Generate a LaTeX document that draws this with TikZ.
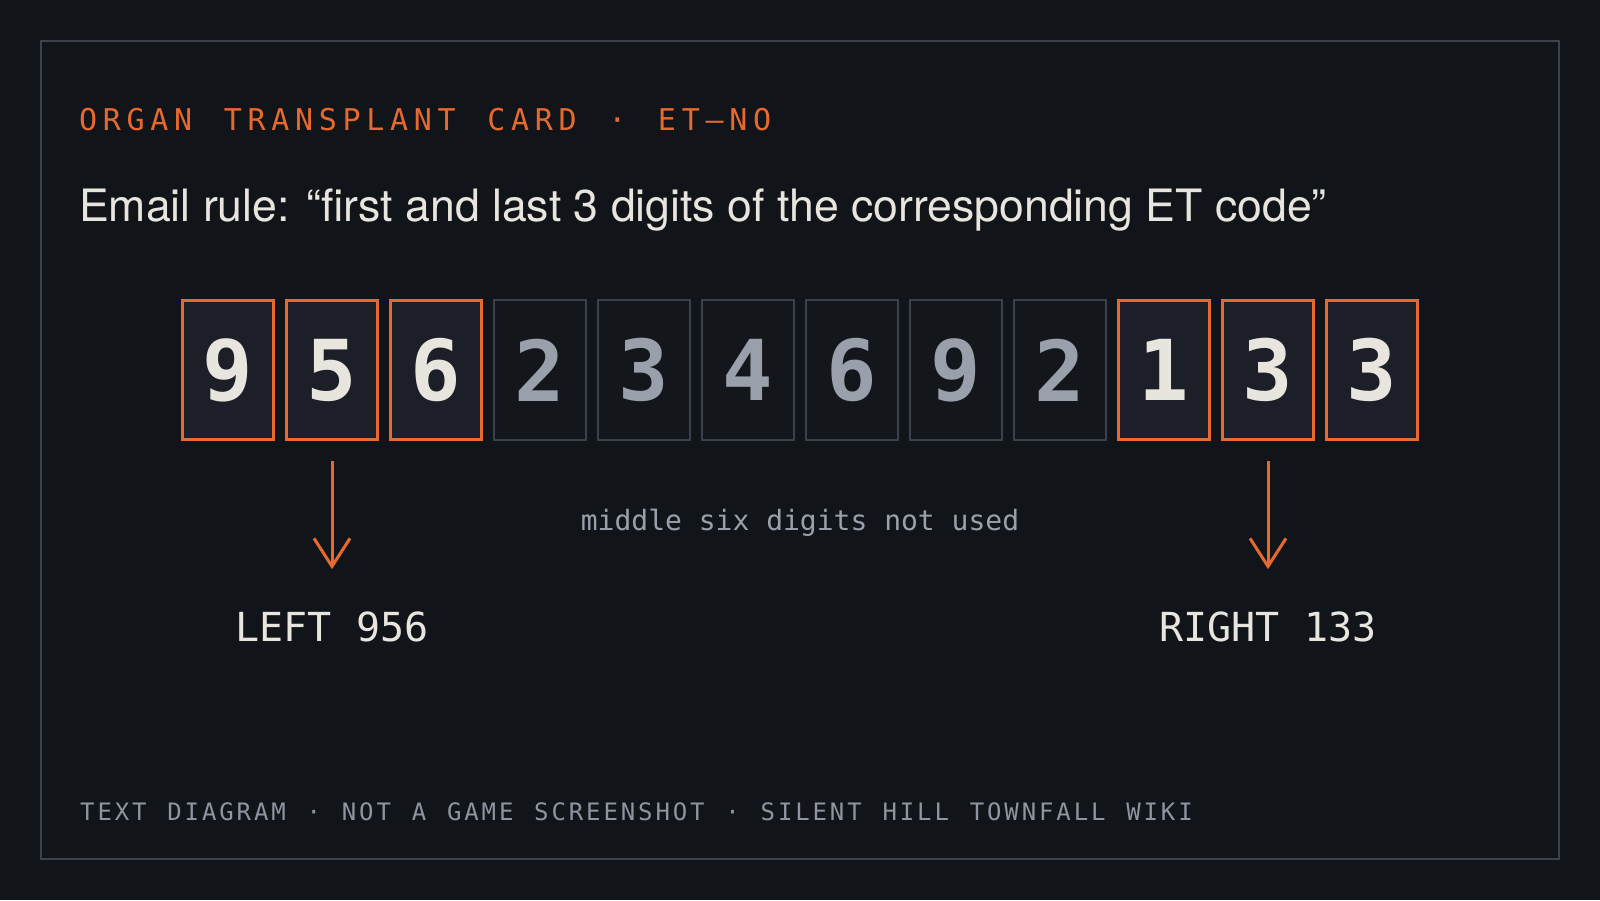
\documentclass[tikz,border=0pt]{standalone}
\usepackage{fontspec}
\setmainfont{TeX Gyre Heros}
\newfontfamily\monofont{DejaVu Sans Mono}
\newfontfamily\titlefont[LetterSpace=19,WordSpace=1.33]{DejaVu Sans Mono}
\newfontfamily\footfont[LetterSpace=12,WordSpace=1.2]{DejaVu Sans Mono}
\usetikzlibrary{arrows.meta}

\definecolor{bgdark}{HTML}{111419}
\definecolor{framegray}{HTML}{3B404D}
\definecolor{accent}{HTML}{E8692E}
\definecolor{cellfill}{HTML}{1C1F28}
\definecolor{skipfill}{HTML}{13161B}
\definecolor{chalk}{HTML}{E8E5DE}
\definecolor{dimdigit}{HTML}{9AA0AB}
\definecolor{footgray}{HTML}{8E94A0}

\begin{document}
\begin{tikzpicture}[x=1pt,y=-1pt,
  keepcell/.style={draw=accent,line width=3.3pt,fill=cellfill,text=chalk,
    minimum width=91pt,minimum height=139pt,inner sep=0pt,
    font=\monofont\bfseries\fontsize{84}{84}\selectfont},
  skipcell/.style={draw=framegray,line width=1.6pt,fill=skipfill,text=dimdigit,
    minimum width=92.4pt,minimum height=140.4pt,inner sep=0pt,
    font=\monofont\bfseries\fontsize{84}{84}\selectfont},
  pick/.style={draw=accent,line width=3pt,-{Straight Barb[length=28pt,width=36pt]}},
  tag/.style={inner sep=0pt,anchor=base,text=chalk,font=\monofont\fontsize{40}{40}\selectfont}]
% Background and frame
\fill[bgdark] (0,0) rectangle (1600,900);
\useasboundingbox (0,0) rectangle (1600,900);
\draw[framegray,line width=2pt] (41,41) rectangle (1559,859);

% Heading lines
\node[inner sep=0pt,anchor=base west,text=accent,font=\titlefont\fontsize{30}{30}\selectfont]
  (title) at (79,130) {ORGAN TRANSPLANT CARD · ET–NO};
\node[inner sep=0pt,anchor=base west,text=chalk,font=\fontsize{44.6}{44.6}\selectfont]
  (rule) at (79,221) {Email rule: “first and last 3 digits of the corresponding ET code”};

% Digit cells
\foreach \d [count=\i] in {9,5,6,2,3,4,6,9,2,1,3,3} {
  \ifnum\i<4 \def\kind{keepcell}\else\ifnum\i>9 \def\kind{keepcell}\else\def\kind{skipcell}\fi\fi
  \node[\kind] (d\i) at ({800+104*(\i-6.5)},370) {\d};
}

% Middle note
\node[inner sep=0pt,anchor=base,text=dimdigit,font=\monofont\fontsize{28}{28}\selectfont]
  (note) at (800,530) {middle six digits not used};

% Left and right picks
\node[tag] (lefttag) at ({800+104*(2-6.5)},641) {LEFT 956};
\node[tag] (righttag) at ({800+104*(11-6.5)},641) {RIGHT 133};
\draw[pick,shorten <=20pt,shorten >=42pt] (d2.south) -- (lefttag.north);
\draw[pick,shorten <=20pt,shorten >=42pt] (d11.south) -- (righttag.north);

% Footer
\node[inner sep=0pt,anchor=base west,text=footgray,font=\footfont\fontsize{24}{24}\selectfont]
  (footer) at (80,820) {TEXT DIAGRAM · NOT A GAME SCREENSHOT · SILENT HILL TOWNFALL WIKI};
\end{tikzpicture}
\end{document}
